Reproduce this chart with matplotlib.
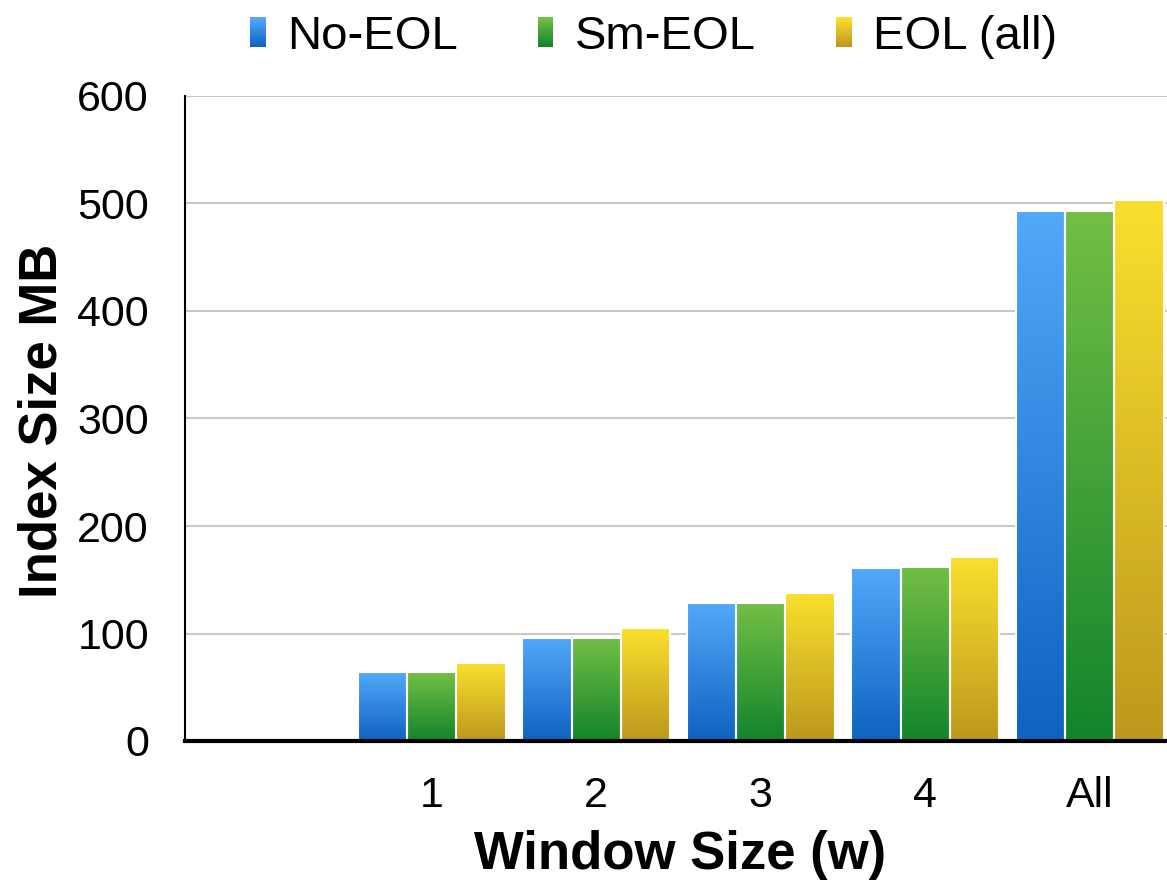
import numpy as np
import matplotlib
matplotlib.use("Agg")
import matplotlib.pyplot as plt
from matplotlib.colors import LinearSegmentedColormap
from matplotlib.legend_handler import HandlerBase
from matplotlib.patches import Rectangle

plt.rcParams['font.family'] = ['Liberation Sans', 'DejaVu Sans']

# Data
categories = ['', '1', '2', '3', '4', 'All']
series_names = ['No-EOL', 'Sm-EOL', 'EOL (all)']
no_eol = [np.nan, 64, 96, 128, 161, 493]
sm_eol = [np.nan, 64, 96, 128, 162, 493]
eol_all = [np.nan, 73, 105, 138, 171, 503]
y_ticks = [0, 100, 200, 300, 400, 500, 600]

# Gradient (top, bottom) colours for each series
gradients = [('#52A9F9', '#0E62C1'),
             ('#73BF45', '#12842B'),
             ('#FADF2D', '#BD981D')]

W, H = 1167, 882
fig = plt.figure(figsize=(W / 100, H / 100), dpi=100)
# plot area runs slightly past the right edge of the canvas
ax = fig.add_axes([185 / W, 1 - 741 / H, (1172 - 185) / W, (741 - 96) / H])

x = np.arange(len(categories))
width = 0.3
offsets = [-0.3, 0.0, 0.3]
series = [no_eol, sm_eol, eol_all]

for vals, off, (top, bot) in zip(series, offsets, gradients):
    cmap = LinearSegmentedColormap.from_list('g', [bot, top])
    bars = ax.bar(x + off, vals, width, color=top, edgecolor='white',
                  linewidth=1.5, zorder=3)
    for rect, v in zip(bars, vals):
        if np.isnan(v):
            continue
        x0 = rect.get_x()
        w = rect.get_width()
        grad = np.linspace(0, 1, 256).reshape(-1, 1)
        im = ax.imshow(grad, cmap=cmap, origin='lower', aspect='auto',
                       extent=[x0, x0 + w, 0, v], zorder=3.5,
                       interpolation='bilinear')
        im.set_clip_path(rect)
        # thin white outline on top of the gradient
        ax.add_patch(Rectangle((x0, 0), w, v, fill=False, edgecolor='white',
                               linewidth=1.5, zorder=4))

ax.set_xlim(-0.5, len(categories) - 0.5)
ax.set_ylim(0, 600)
ax.set_yticks(y_ticks)
ax.set_yticklabels([str(t) for t in y_ticks])
ax.set_xticks(x)
ax.set_xticklabels(categories)
ax.tick_params(axis='both', length=0, labelsize=31)
ax.tick_params(axis='y', pad=26)
ax.tick_params(axis='x', pad=25)

ax.grid(axis='y', color='#C8C8C8', linewidth=1.5, zorder=0)
ax.set_axisbelow(True)
for s in ['top', 'right']:
    ax.spines[s].set_visible(False)
ax.spines['left'].set_linewidth(1.5)
ax.spines['bottom'].set_linewidth(3)
ax.spines['bottom'].set_zorder(5)

ax_w_px = 1172 - 185
ax.set_xlabel('Window Size (w)', fontsize=38, fontweight='bold')
ax.set_ylabel('Index Size MB', fontsize=38, fontweight='bold')
ax.xaxis.set_label_coords((680 - 185) / ax_w_px, -0.138)
ax.yaxis.set_label_coords(-0.119, 0.5 - (421 - 418.5) / 645)


class GradientHandler(HandlerBase):
    def __init__(self, top, bot, **kw):
        super().__init__(**kw)
        self.top = top
        self.bot = bot

    def create_artists(self, legend, orig_handle, xdescent, ydescent,
                       width, height, fontsize, trans):
        cmap = LinearSegmentedColormap.from_list('g', [self.bot, self.top])
        n = 20
        arts = []
        for i in range(n):
            r = Rectangle((-xdescent, -ydescent + height * i / n), width,
                          height / n + 0.01, facecolor=cmap(i / (n - 1)),
                          edgecolor='none', transform=trans)
            arts.append(r)
        return arts


handles = [Rectangle((0, 0), 1, 1) for _ in series_names]
handler_map = {h: GradientHandler(t, b) for h, (t, b) in zip(handles, gradients)}
fig.legend(handles, series_names, loc='center', bbox_to_anchor=(0.56, 0.958),
           ncol=3, frameon=False, fontsize=34, handlelength=0.33,
           handleheight=0.6, handletextpad=0.45, columnspacing=1.7,
           handler_map=handler_map)

fig.savefig('out.png', dpi=100)
